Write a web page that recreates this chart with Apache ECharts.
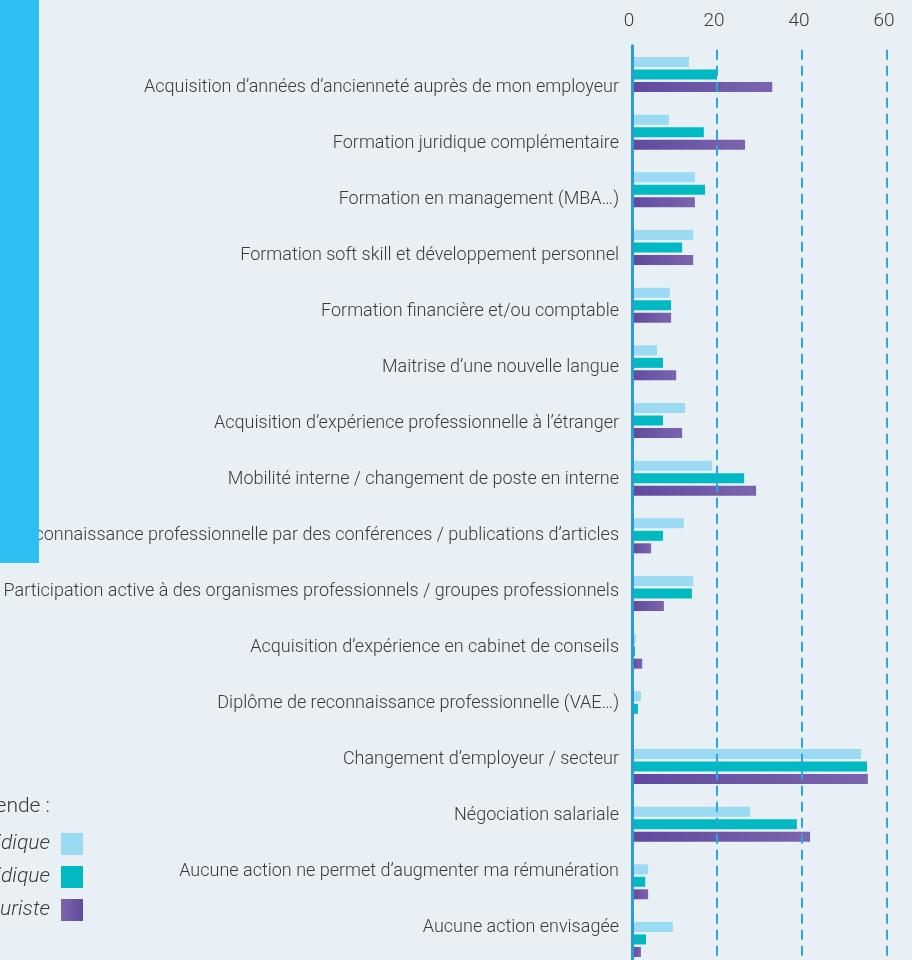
<!DOCTYPE html>
<html>
<head>
<meta charset="utf-8">
<script src="https://cdn.jsdelivr.net/npm/echarts@6/dist/echarts.min.js"></script>
<style>
  html, body { margin: 0; padding: 0; background: #e8f0f6; }
  #chart { width: 912px; height: 960px; }
</style>
</head>
<body>
<div id="chart"></div>
<script>
const categories = [
  "Acquisition d’années d’ancienneté auprès de mon employeur",
  "Formation juridique complémentaire",
  "Formation en management (MBA…)",
  "Formation soft skill et développement personnel",
  "Formation financière et/ou comptable",
  "Maitrise d’une nouvelle langue",
  "Acquisition d’expérience professionnelle à l’étranger",
  "Mobilité interne / changement de poste en interne",
  "Reconnaissance professionnelle par des conférences / publications d’articles",
  "Participation active à des organismes professionnels / groupes professionnels",
  "Acquisition d’expérience en cabinet de conseils",
  "Diplôme de reconnaissance professionnelle (VAE…)",
  "Changement d’employeur / secteur",
  "Négociation salariale",
  "Aucune action ne permet d’augmenter ma rémunération",
  "Aucune action envisagée"
]
const seriesNames = ["Directeur juridique", "Responsable juridique", "Juriste"]
const directeur = [13.4, 8.7, 14.8, 14.4, 8.9, 5.9, 12.5, 18.8, 12.2, 14.4, 0.9, 2.1, 53.9, 27.8, 3.8, 9.6]
const responsable = [20, 16.9, 17.2, 11.8, 9.2, 7.3, 7.3, 26.4, 7.3, 14.1, 0.7, 1.4, 55.3, 38.8, 3.1, 3.3]
const juriste = [33, 26.6, 14.8, 14.4, 9.2, 10.4, 11.8, 29.2, 4.5, 7.5, 2.4, 0, 55.5, 41.9, 3.8, 2.1]
const tickMax = 60

const purple = new echarts.graphic.LinearGradient(0, 0, 1, 0, [
  { offset: 0, color: '#5f4a9f' },
  { offset: 1, color: '#7c65ad' }
])
const purpleIcon = new echarts.graphic.LinearGradient(0, 0, 1, 0, [
  { offset: 0, color: '#7c65ad' },
  { offset: 1, color: '#5f4a9f' }
])

const chart = echarts.init(document.getElementById('chart'))
const font = 'Roboto'

const barStyle = { barWidth: 10, barGap: '25%' }

chart.setOption({
  backgroundColor: '#e8f0f6',
  animation: false,
  textStyle: { fontFamily: font },
  grid: [
    // bars (last band runs past the bottom edge)
    { left: 632, width: 255, top: 45.7, height: 922.6, outerBoundsMode: 'none' },
    // category labels (slightly different spacing)
    { left: 632, width: 255, top: 59, height: 897, outerBoundsMode: 'none' }
  ],
  xAxis: [
    {
      gridIndex: 0,
      type: 'value',
      position: 'top',
      min: 0,
      max: tickMax,
      interval: 20,
      z: 3,
      axisLine: { show: false },
      axisTick: { show: false },
      axisLabel: {
        margin: 15,
        fontSize: 19,
        fontWeight: 300,
        color: '#3a3a3a',
        padding: [0, 6, 0, 0]
      },
      splitLine: {
        show: true,
        lineStyle: { color: '#2aa7e1', width: 2, type: [10, 6], dashOffset: -4 }
      }
    },
    {
      gridIndex: 1,
      type: 'value',
      min: 0,
      max: tickMax,
      show: false
    }
  ],
  yAxis: [
    {
      gridIndex: 0,
      type: 'category',
      data: categories,
      inverse: true,
      z: 4,
      axisLine: { show: true, lineStyle: { color: '#2a9bd6', width: 3 } },
      axisTick: { show: false },
      axisLabel: { show: false },
      splitLine: { show: false }
    },
    {
      gridIndex: 1,
      type: 'category',
      data: categories,
      inverse: true,
      axisLine: { show: false },
      axisTick: { show: false },
      axisLabel: {
        margin: 13,
        fontSize: 18,
        fontWeight: 300,
        color: '#3a3a3a'
      },
      splitLine: { show: false }
    }
  ],
  legend: {
    orient: 'vertical',
    align: 'right',
    right: 829,
    top: 833,
    padding: 0,
    itemWidth: 22,
    itemHeight: 22,
    itemGap: 11,
    icon: 'rect',
    textStyle: {
      fontSize: 21,
      fontStyle: 'italic',
      fontWeight: 300,
      color: '#3a3a3a',
      padding: [0, 6, 0, 0]
    },
    data: [
      { name: seriesNames[0] },
      { name: seriesNames[1] },
      { name: seriesNames[2], itemStyle: { color: purpleIcon } }
    ]
  },
  graphic: [
    {
      type: 'rect',
      z: 100,
      shape: { x: 0, y: 0, width: 39, height: 563 },
      style: { fill: '#2dbff2' }
    },
    {
      type: 'text',
      z: 100,
      x: 50,
      y: 807,
      style: {
        text: 'Légende :',
        font: '300 21px Roboto',
        fill: '#3a3a3a',
        align: 'right',
        verticalAlign: 'middle'
      }
    }
  ],
  series: [
    {
      name: seriesNames[0],
      type: 'bar',
      data: directeur,
      itemStyle: { color: '#9adaf2' },
      ...barStyle
    },
    {
      name: seriesNames[1],
      type: 'bar',
      data: responsable,
      itemStyle: { color: '#00b9c2' },
      ...barStyle
    },
    {
      name: seriesNames[2],
      type: 'bar',
      data: juriste,
      itemStyle: { color: purple },
      ...barStyle
    }
  ]
})

window.addEventListener('resize', chart.resize)
</script>
</body>
</html>
